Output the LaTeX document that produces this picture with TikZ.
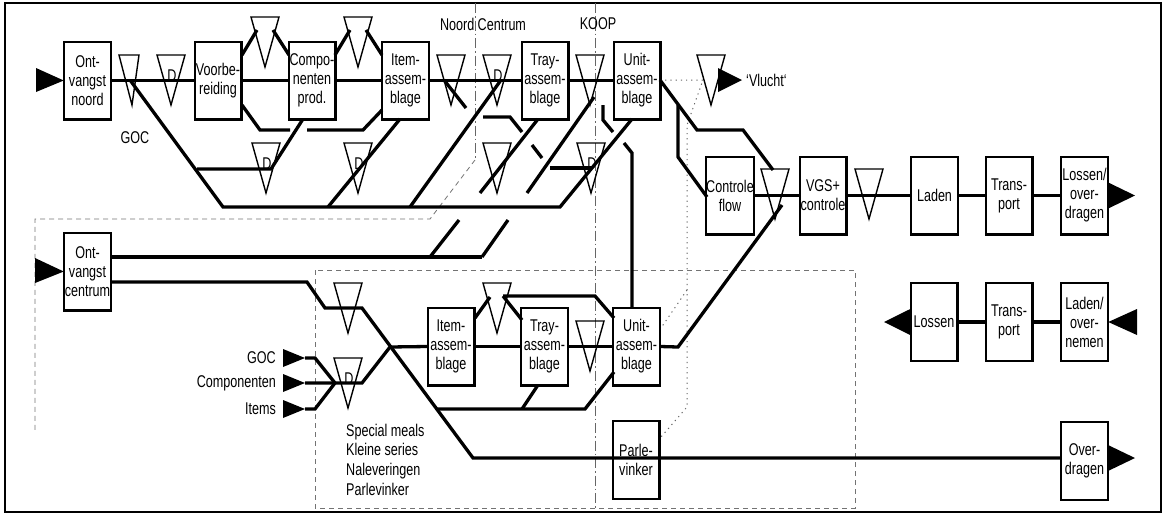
\documentclass[tikz,border=0pt]{standalone}
\usepackage{fontspec}
\setmainfont[FakeStretch=0.74]{Liberation Sans}
\usetikzlibrary{calc}
\newcommand\dfont{\fontsize{17}{19}\selectfont}
\tikzset{
  flow/.style={line width=3.3pt},
  box/.style={draw,fill=white,line width=1.5pt,minimum width=46pt,minimum height=77pt,inner sep=0pt,align=center,font=\dfont},
  lbl/.style={font=\dfont,inner sep=0pt},
  region/.style={draw=black!55,line width=0.8pt,dash pattern=on 5pt off 4pt},
  border/.style={draw=black!60,line width=0.8pt,dash pattern=on 10pt off 3pt on 1.5pt off 3pt},
  dots/.style={draw=black!60,line width=1pt,dash pattern=on 1.2pt off 4pt},
  tri/.pic={\draw[line width=1.4pt] (-14,0)--(14,0)--(0,50)--cycle;},
  trin/.pic={\draw[line width=1.4pt] (-10,0)--(10,0)--(3,50)--cycle;},
  trid/.pic={\draw[line width=1.4pt] (-14,0)--(14,0)--(0,50)--cycle; \node[lbl] at (1,21) {D};},
}
\begin{document}
\begin{tikzpicture}[x=1pt,y=-1pt]
\useasboundingbox (0,0) rectangle (1168,515);
\draw[line width=2.5pt] (5,3) rectangle (1161,512);

% regions
\draw[border] (475,3) -- (475,160);
\draw[region] (475,160) -- (430,219) -- (35,219) -- (35,430);
\draw[region] (315,270) rectangle (855,508);
\draw[border] (595,3) -- (595,510);
\draw[dots] (660,80) -- (703,80) -- (687,125) -- (687,407) -- (661,437);
\draw[dots] (687,290) -- (661,328);

% boxes
\node[box] (ontn) at (87.5,80.5) {Ont-\\vangst\\noord};
\node[box] (voor) at (218,80.5) {Voorbe-\\reiding};
\node[box] (comp) at (312,80.5) {Compo-\\nenten\\prod.};
\node[box] (itemN) at (405.5,80.5) {Item-\\assem-\\blage};
\node[box] (trayN) at (545,80.5) {Tray-\\assem-\\blage};
\node[box] (unitN) at (637,80.5) {Unit-\\assem-\\blage};
\node[box] (ctrl) at (730,195.5) {Controle\\flow};
\node[box] (vgs) at (823,195.5) {VGS+\\controle};
\node[box] (laden) at (934.5,195.5) {Laden};
\node[box] (trans1) at (1009,195.5) {Trans-\\port};
\node[box] (losov) at (1084.5,195.5) {Lossen/\\over-\\dragen};
\node[box] (ontc) at (87.5,271.5) {Ont-\\vangst\\centrum};
\node[box] (itemC) at (451,346.5) {Item-\\assem-\\blage};
\node[box] (trayC) at (544.5,346.5) {Tray-\\assem-\\blage};
\node[box] (unitC) at (636.5,346.5) {Unit-\\assem-\\blage};
\node[box] (lossen) at (934,322) {Lossen};
\node[box] (trans2) at (1009,322) {Trans-\\port};
\node[box] (ladov) at (1084.5,322) {Laden/\\over-\\nemen};
\node[box] (parle) at (636,460) {Parle-\\vinker};
\node[box] (overd) at (1084.5,461) {Over-\\dragen};

% main flow, top row
\draw[flow] (ontn.east) -- (voor.west);
\draw[flow] (voor.east) -- (comp.west);
\draw[flow] (comp.east) -- (itemN.west);
\draw[flow] (itemN.east) -- (trayN.west);
\draw[flow] (trayN.east) -- (unitN.west);
\draw[flow] (242,55) -- (257,30);
\draw[flow] (273,30) -- (289,55);
\draw[flow] (335,55) -- (350,30);
\draw[flow] (366,30) -- (382,55);
\draw[flow] (130,80) -- (223,207) -- (560,207) -- (632,119);
\draw[flow] (197,169) -- (271,169) -- (303,119);
\draw[flow] (242,105) -- (260,130) -- (290,130);
\draw[flow] (307,130) -- (363,130) -- (382,110);
\draw[flow] (400,119) -- (328,207);
\draw[flow] (501,80) -- (410,207);
\draw[flow] (444,80) -- (466,108);
\draw[flow] (483,117) -- (510,117) -- (522,132);
\draw[flow] (532,145) -- (542,158);
\draw[flow] (538,119) -- (480,193);
\draw[flow] (459,220) -- (430,257);
\draw[flow] (594,97) -- (527,193);
\draw[flow] (508,220) -- (482,257);
\draw[flow] (550,168) -- (592,168);
\draw[flow] (603,105) -- (603,120) -- (613,132);
\draw[flow] (624,143) -- (632,153) -- (unitC.north -| 632,0);
\draw[flow] (660,80) -- (697,130) -- (743,130) -- (773,170);
\draw[flow] (678,105) -- (678,157) -- (707,197);

% second row
\draw[flow] (ctrl.east) -- (vgs.west);
\draw[flow] (vgs.east) -- (laden.west);
\draw[flow] (laden.east) -- (trans1.west);
\draw[flow] (trans1.east) -- (losov.west);
\draw[flow] (unitC.east) -- (678,347) -- (782,205);

% lower section
\draw[flow] (111,257) -- (482,257);
\draw[flow] (111,282) -- (307,282) -- (325,308) -- (362,308) -- (473,458) -- (overd.west |- 0,458);
\draw[flow] (305,358) -- (315,358) -- (335,383);
\draw[flow] (305,383) -- (362,383) -- (390,347) -- (itemC.west);
\draw[flow] (305,409) -- (315,409) -- (335,383);
\draw[flow] (itemC.east) -- (trayC.west);
\draw[flow] (trayC.east) -- (unitC.west);
\draw[flow] (475,318) -- (490,297);
\draw[flow] (503,296) -- (522,320);
\draw[flow] (503,296) -- (595,296) -- (614,318);
\draw[flow] (437,409) -- (585,409) -- (614,372);
\draw[flow] (522,409) -- (538,385);
\draw[flow] (lossen.east) -- (trans2.west);
\draw[flow] (trans2.east) -- (ladov.west);

% redraw boxes over line ends
\foreach \n in {ontn,voor,comp,itemN,trayN,unitN,ctrl,vgs,laden,trans1,losov,ontc,itemC,trayC,unitC,lossen,trans2,ladov,parle,overd}
  \draw[line width=1.5pt] (\n.north west) rectangle (\n.south east);

% triangles
\pic at (129,55) {trin};
\pic at (171,55) {trid};
\pic at (451,55) {tri};
\pic at (497,55) {trid};
\pic at (590,55) {tri};
\pic at (711,55) {tri};
\pic at (265,17) {tri};
\pic at (358,17) {tri};
\pic at (266,143) {trid};
\pic at (358,143) {trid};
\pic at (497,143) {tri};
\pic at (591,143) {trid};
\pic at (775,169) {tri};
\pic at (869,169) {tri};
\pic at (348,283) {tri};
\pic at (348,358) {trid};
\pic at (497,283) {tri};
\pic at (590,321) {tri};

% arrowheads
\fill (36,68) -- (36,92) -- (ontn.west) -- cycle;
\fill (35,258) -- (35,283) -- (ontc.west) -- cycle;
\fill (283,349) -- (283,367) -- (305,358) -- cycle;
\fill (283,374) -- (283,392) -- (305,383) -- cycle;
\fill (283,400) -- (283,418) -- (305,409) -- cycle;
\fill (losov.east) ++(0,-13) -- ++(0,26) -- (1135,195.5) -- cycle;
\fill (718,68) -- (718,92) -- (742,80) -- cycle;
\fill (lossen.west) ++(0,-13) -- ++(0,26) -- (884,322) -- cycle;
\fill (1137,309) -- (1137,335) -- (ladov.east) -- cycle;
\fill (1108,445) -- (1108,471) -- (1135,458) -- cycle;

% labels
\node[lbl] (goc1) at (135,138) {GOC};
\node[lbl] (nc) at (483,24) {Noord Centrum};
\node[lbl] (koop) at (598,24) {KOOP};
\node[lbl,anchor=west] (vl) at (746,80) {`Vlucht`};
\node[lbl,anchor=east] (goc2) at (276,358) {GOC};
\node[lbl,anchor=east] (cmp) at (276,383) {Componenten};
\node[lbl,anchor=east] (its) at (276,409) {Items};
\node[lbl,anchor=west,align=left,font=\fontsize{17}{19.7}\selectfont] (spec) at (346,459.5) {Special meals\\Kleine series\\Naleveringen\\Parlevinker};
\end{tikzpicture}
\end{document}
